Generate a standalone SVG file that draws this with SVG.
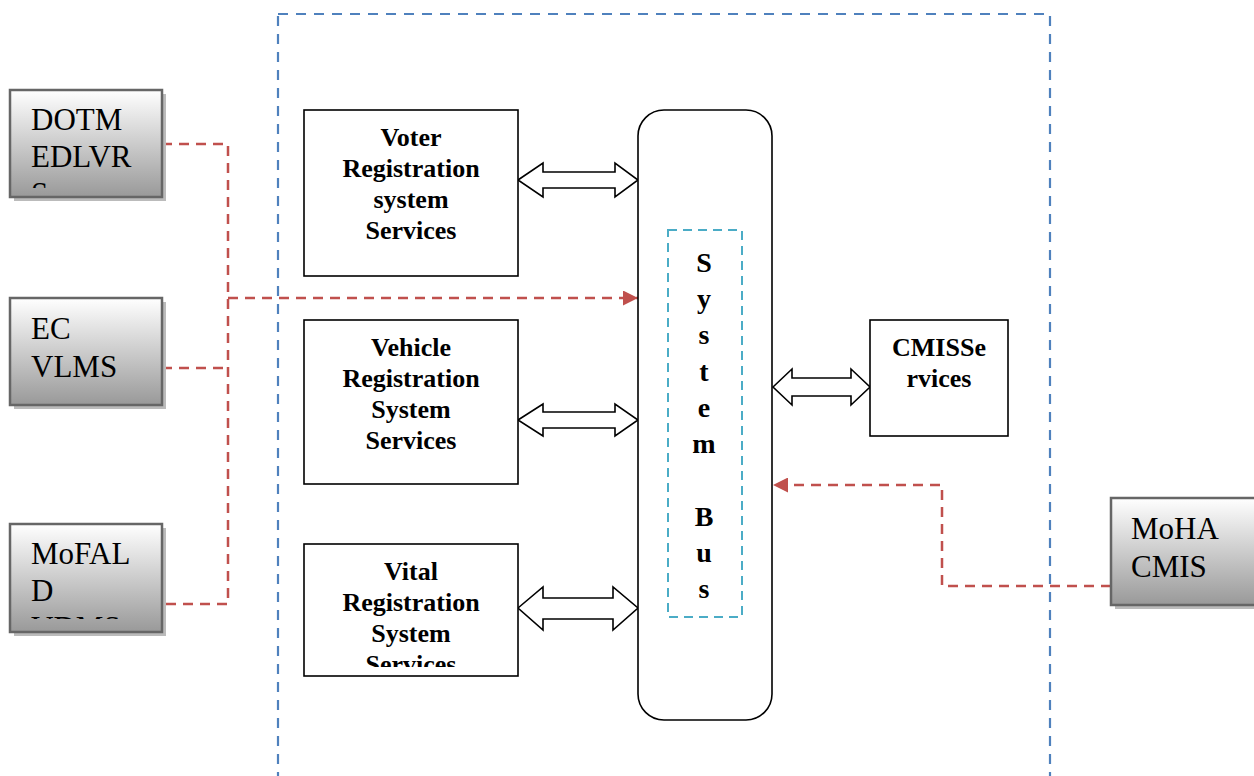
<svg xmlns="http://www.w3.org/2000/svg" width="1254" height="776" viewBox="0 0 1254 776">
<defs>
<linearGradient id="g" x1="0" y1="0" x2="0" y2="1">
<stop offset="0" stop-color="#ffffff"/>
<stop offset="1" stop-color="#999999"/>
</linearGradient>
<marker id="ar" viewBox="0 0 10 10" refX="10" refY="5" markerWidth="6.4" markerHeight="6" orient="auto" markerUnits="strokeWidth">
<path d="M0,0 L10,5 L0,10 Z" fill="#c0504d"/>
</marker>
<clipPath id="c1"><rect x="10" y="90" width="152" height="98"/></clipPath>
<clipPath id="c2"><rect x="10" y="298" width="152" height="107"/></clipPath>
<clipPath id="c3"><rect x="10" y="524" width="152" height="95"/></clipPath>
<clipPath id="c4"><rect x="1111" y="498" width="143" height="107"/></clipPath>
<clipPath id="cv"><rect x="304" y="544" width="214" height="123"/></clipPath>
</defs>
<style>
.ext{fill:url(#g);stroke:#666666;stroke-width:2.5}
.sh{fill:#bbbbbb}
.et{font-family:'Liberation Serif',Tinos,'Times New Roman',Times,'DejaVu Serif',serif;font-size:31px;font-weight:normal;font-style:normal;fill:#000}
.box{fill:#fff;stroke:#000;stroke-width:1.6}
.bt{font-family:'Liberation Serif',Tinos,'Times New Roman',Times,'DejaVu Serif',serif;font-size:26px;font-weight:bold;text-anchor:middle;fill:#000}
.bus{font-family:'Liberation Serif',Tinos,'Times New Roman',Times,'DejaVu Serif',serif;font-size:28px;font-weight:bold;text-anchor:middle;fill:#000}
.dash{fill:none;stroke:#c0504d;stroke-width:2.5;stroke-dasharray:10,7}
.dbl{fill:#fff;stroke:#000;stroke-width:1.6;stroke-linejoin:miter}
</style>
<rect x="278" y="14" width="772" height="800" fill="none" stroke="#4f81bd" stroke-width="2.2" stroke-dasharray="10,8"/>
<g id="connectors">
<polyline class="dash" points="162,144 228,144 228,604 162,604"/>
<line class="dash" x1="162" y1="368" x2="228" y2="368"/>
<line class="dash" x1="228" y1="298" x2="638" y2="298" marker-end="url(#ar)"/>
<polyline class="dash" points="1111,586 942,586 942,485 773,485" marker-end="url(#ar)"/>
<path class="dbl" d="M518,180 L543,163 L543,172 L615,172 L615,163 L638,180 L615,197 L615,188 L543,188 L543,197 Z"/>
<path class="dbl" d="M518,420 L543,404 L543,412 L615,412 L615,404 L638,420 L615,436 L615,428 L543,428 L543,436 Z"/>
<path class="dbl" d="M518,608 L543,587 L543,598 L613,598 L613,587 L638,608 L613,630 L613,619 L543,619 L543,630 Z"/>
<path class="dbl" d="M773,387 L792,369 L792,378 L851,378 L851,369 L870,387 L851,405 L851,396 L792,396 L792,405 Z"/>
</g>
<g id="dotm">
<rect class="sh" x="14" y="94" width="152" height="107"/>
<rect class="ext" x="10" y="90" width="152" height="107"/>
<g clip-path="url(#c1)"><text class="et" x="31" y="130">DOTM</text><text class="et" x="31" y="167">EDLVR</text><text class="et" x="31" y="204">S</text></g>
</g>
<g id="ec">
<rect class="sh" x="14" y="302" width="152" height="107"/>
<rect class="ext" x="10" y="298" width="152" height="107"/>
<g clip-path="url(#c2)"><text class="et" x="31" y="339">EC</text><text class="et" x="31" y="377">VLMS</text></g>
</g>
<g id="mofald">
<rect class="sh" x="14" y="528" width="152" height="108"/>
<rect class="ext" x="10" y="524" width="152" height="108"/>
<g clip-path="url(#c3)"><text class="et" x="31" y="564">MoFAL</text><text class="et" x="31" y="601">D</text><text class="et" x="31" y="638">VDMS</text></g>
</g>
<g id="moha">
<rect class="sh" x="1115" y="502" width="150" height="107"/>
<rect class="ext" x="1111" y="498" width="150" height="107"/>
<g clip-path="url(#c4)"><text class="et" x="1131" y="539">MoHA</text><text class="et" x="1131" y="577">CMIS</text></g>
</g>
<g id="voter">
<rect class="box" x="304" y="110" width="214" height="166"/>
<text class="bt" x="411" y="146">Voter</text><text class="bt" x="411" y="177">Registration</text><text class="bt" x="411" y="208">system</text><text class="bt" x="411" y="239">Services</text>
</g>
<g id="vehicle">
<rect class="box" x="304" y="320" width="214" height="164"/>
<text class="bt" x="411" y="356">Vehicle</text><text class="bt" x="411" y="387">Registration</text><text class="bt" x="411" y="418">System</text><text class="bt" x="411" y="449">Services</text>
</g>
<g id="vital">
<rect class="box" x="304" y="544" width="214" height="132"/>
<g clip-path="url(#cv)"><text class="bt" x="411" y="580">Vital</text><text class="bt" x="411" y="611">Registration</text><text class="bt" x="411" y="642">System</text><text class="bt" x="411" y="673">Services</text></g>
</g>
<g id="cmis">
<rect class="box" x="870" y="320" width="138" height="116"/>
<text class="bt" x="939" y="356">CMISSe</text><text class="bt" x="939" y="387">rvices</text>
</g>
<g id="bus">
<rect class="box" x="638" y="110" width="134" height="610" rx="26"/>
<rect x="668" y="230" width="74" height="387" fill="none" stroke="#4bacc6" stroke-width="2" stroke-dasharray="9,6"/>
<text class="bus" x="704" y="272">S</text><text class="bus" x="704" y="308">y</text><text class="bus" x="704" y="344">s</text><text class="bus" x="704" y="381">t</text><text class="bus" x="704" y="417">e</text><text class="bus" x="704" y="453">m</text><text class="bus" x="704" y="526">B</text><text class="bus" x="704" y="562">u</text><text class="bus" x="704" y="598">s</text>
</g>
</svg>
